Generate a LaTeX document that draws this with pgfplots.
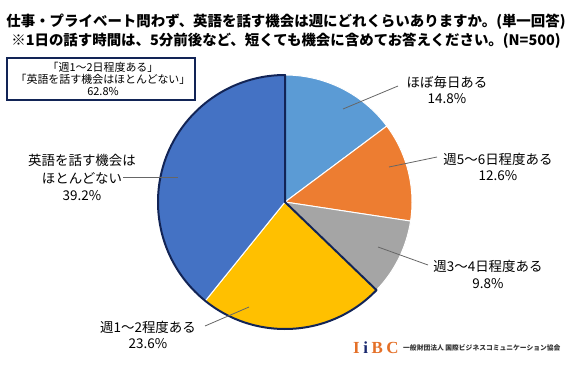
\documentclass[border=0pt]{standalone}
\usepackage{pgfplots}
\pgfplotsset{compat=1.18}
\usepackage{pgfplotstable}
\usepackage{fontspec}
\setmainfont{Noto Sans CJK JP}
\newfontfamily\logofont{Liberation Serif}
\definecolor{c1}{HTML}{5B9BD5}
\definecolor{c2}{HTML}{ED7D31}
\definecolor{c3}{HTML}{A5A5A5}
\definecolor{c4}{HTML}{FFC000}
\definecolor{c5}{HTML}{4472C4}
\definecolor{navy}{RGB}{18,36,86}
\definecolor{logoorange}{RGB}{228,112,40}
\definecolor{logonavy}{RGB}{25,40,110}

\pgfplotstableread{
pct
14.8
12.6
9.8
23.6
39.2
}\piedata

\begin{document}
\begin{tikzpicture}
\pgfplotstablegetelem{0}{pct}\of\piedata \let\pA\pgfplotsretval
\pgfplotstablegetelem{1}{pct}\of\piedata \let\pB\pgfplotsretval
\pgfplotstablegetelem{2}{pct}\of\piedata \let\pC\pgfplotsretval
\pgfplotstablegetelem{3}{pct}\of\piedata \let\pD\pgfplotsretval
\pgfplotstablegetelem{4}{pct}\of\piedata \let\pE\pgfplotsretval
\pgfmathsetmacro\aA{90-3.6*\pA}
\pgfmathsetmacro\aB{\aA-3.6*\pB}
\pgfmathsetmacro\aC{\aB-3.6*\pC}
\pgfmathsetmacro\aD{\aC-3.6*\pD}
\pgfmathsetmacro\aE{\aD-3.6*\pE}
\begin{axis}[hide axis, x=1bp, y=1bp, xmin=0, xmax=570, ymin=0, ymax=365, clip=false]
\path (axis cs:0,0) rectangle (axis cs:570,365);
% slices
\filldraw[fill=c1, draw=white, line width=1bp] (axis cs:285,163) -- ++(90:127bp) arc[start angle=90, end angle=\aA, radius=127bp] -- cycle;
\filldraw[fill=c2, draw=white, line width=1bp] (axis cs:285,163) -- ++(\aA:127bp) arc[start angle=\aA, end angle=\aB, radius=127bp] -- cycle;
\filldraw[fill=c3, draw=white, line width=1bp] (axis cs:285,163) -- ++(\aB:127bp) arc[start angle=\aB, end angle=\aC, radius=127bp] -- cycle;
\filldraw[fill=c4, draw=white, line width=1bp] (axis cs:285,163) -- ++(\aC:127bp) arc[start angle=\aC, end angle=\aD, radius=127bp] -- cycle;
\filldraw[fill=c5, draw=white, line width=1bp] (axis cs:285,163) -- ++(\aD:127bp) arc[start angle=\aD, end angle=\aE, radius=127bp] -- cycle;
\draw[navy, line width=2bp, line join=round] (axis cs:285,163) -- ++(\aC:127bp) arc[start angle=\aC, end angle=\aE, radius=127bp] -- cycle;
% leader lines
\addplot[black!60, line width=0.8bp, no markers] coordinates {(343,256) (398,279)};
\addplot[black!60, line width=0.8bp, no markers] coordinates {(389,198) (437,208)};
\addplot[black!60, line width=0.8bp, no markers] coordinates {(378,118) (428,100)};
\addplot[black!60, line width=0.8bp, no markers] coordinates {(249,58) (205,39)};
\addplot[black!60, line width=0.8bp, no markers] coordinates {(123,188) (178,188)};
% labels
\node[align=center, font=\fontsize{13.5}{16.5}\selectfont] at (axis cs:447,275) {ほぼ毎日ある\\14.8\%};
\node[align=center, font=\fontsize{13.5}{16.5}\selectfont] at (axis cs:498,198) {週5～6日程度ある\\12.6\%};
\node[align=center, font=\fontsize{13.5}{16.5}\selectfont] at (axis cs:488,90.5) {週3～4日程度ある\\9.8\%};
\node[align=center, font=\fontsize{13.5}{16.5}\selectfont] at (axis cs:148,30) {週1～2程度ある\\23.6\%};
\node[align=center, font=\fontsize{13.5}{17.5}\selectfont] at (axis cs:82,187.5) {英語を話す機会は\\ほとんどない\\39.2\%};
% box
\node[draw=navy, line width=1.3bp, minimum width=188bp, minimum height=42bp, inner sep=0pt] at (axis cs:101,286) {};
\node[align=center, inner sep=0pt, font=\fontsize{11}{12}\selectfont] at (axis cs:103,286) {「週1～2日程度ある」\\「英語を話す機会はほとんどない」\\62.8\%};
% title
\node[align=center, font=\bfseries\fontsize{14.5}{19}\selectfont] at (axis cs:286,333.5) {仕事・プライベート問わず、英語を話す機会は週にどれくらいありますか。(単一回答)\\※1日の話す時間は、5分前後など、短くても機会に含めてお答えください。(N=500)};
% logo
\node[anchor=west, inner sep=0pt, font=\logofont\bfseries\fontsize{17}{17}\selectfont, text=logoorange] at (axis cs:353,17) {I\hspace{3.5bp}\textcolor{logonavy}{i}\hspace{3.5bp}B\hspace{3.5bp}C};
\node[anchor=west, inner sep=0pt, font=\bfseries\fontsize{6.8}{7}\selectfont, text=black!80] at (axis cs:403,17) {一般財団法人 国際ビジネスコミュニケーション協会};
\end{axis}
\end{tikzpicture}
\end{document}
